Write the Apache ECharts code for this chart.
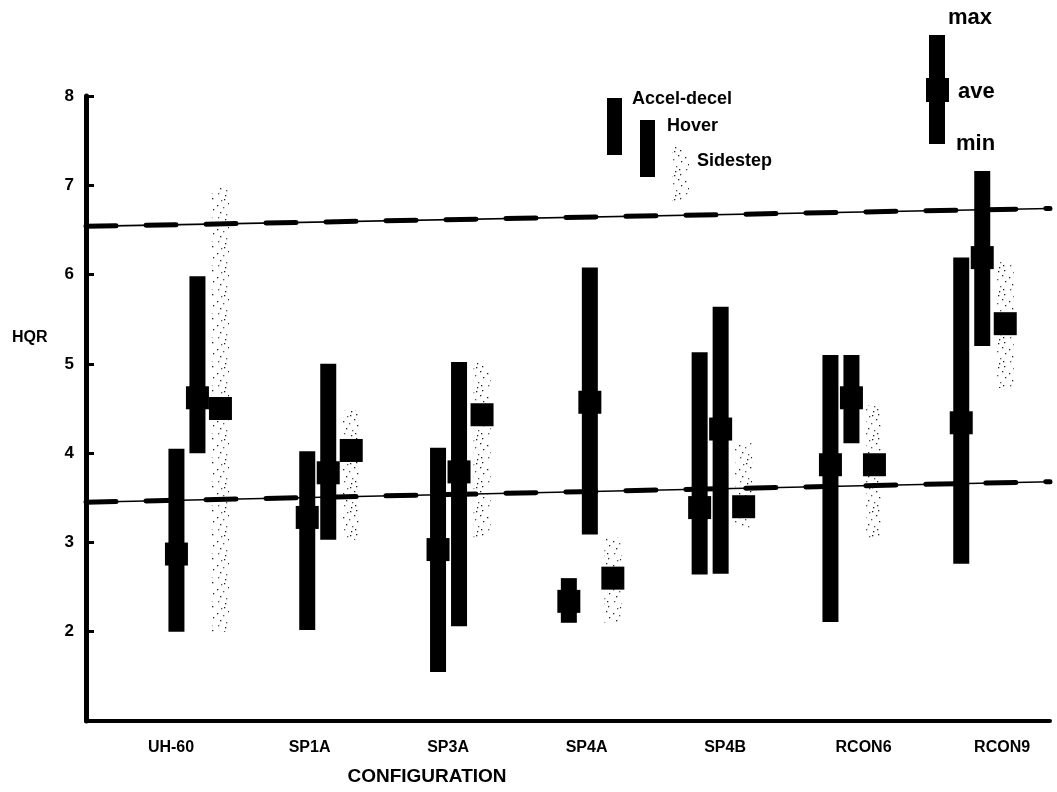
<!DOCTYPE html>
<html><head><meta charset="utf-8">
<script src="https://cdn.jsdelivr.net/npm/echarts@6/dist/echarts.min.js"></script>
<style>html,body{margin:0;padding:0;background:#fff}#c{width:1057px;height:792px}</style>
</head><body><div id="c"></div>
<script>
// ---- data ----
const categories = ['UH-60', 'SP1A', 'SP3A', 'SP4A', 'SP4B', 'RCON6', 'RCON9'];
const yTicks = [2, 3, 4, 5, 6, 7, 8];
const accelMin = [2.00, 2.02, 1.55, 2.10, 2.64, 2.11, 2.76];
const accelAve = [2.87, 3.28, 2.92, 2.34, 3.39, 3.87, 4.34];
const accelMax = [4.05, 4.02, 4.06, 2.60, 5.13, 5.10, 6.19];
const hoverMin = [4.00, 3.03, 2.06, 3.09, 2.65, 4.11, 5.20];
const hoverAve = [4.62, 3.78, 3.79, 4.57, 4.27, 4.62, 6.19];
const hoverMax = [5.98, 5.00, 5.02, 6.08, 5.64, 5.10, 7.16];
const sideMin  = [2.00, 3.03, 3.05, 2.10, 3.16, 3.05, 4.73];
const sideAve  = [4.50, 4.03, 4.43, 2.60, 3.40, 3.87, 5.45];
const sideMax  = [6.97, 4.48, 5.01, 3.06, 4.11, 4.54, 6.14];
const upperLimit = [6.54, 6.74];   // left end, right end
const lowerLimit = [3.45, 3.68];

const FONT = '"Liberation Sans", Arial, Helvetica, sans-serif';

function makeDots() {
  const c = document.createElement('canvas');
  c.width = 18; c.height = 24;
  const g = c.getContext('2d');
  const pts = [[2,1],[9,3],[14,6],[5,8],[12,11],[1,13],[7,15],[15,17],[4,20],[10,22],[8,7],[13,1]];
  pts.forEach((p, k) => { g.fillStyle = k % 3 === 0 ? '#555' : '#222'; g.fillRect(p[0], p[1], 1.3, 1.3); });
  return c;
}
const dotFill = { image: makeDots(), repeat: 'repeat' };

function rangeSeries(name, mins, aves, maxs, offset, dotted) {
  return {
    type: 'custom', name: name, xAxisIndex: 1, yAxisIndex: 0, clip: false,
    data: categories.map((c, i) => [i, mins[i], aves[i], maxs[i]]),
    renderItem: function (params, api) {
      const i = api.value(0);
      const x = api.coord([i, 1])[0] + offset;
      const yMin = api.coord([i, api.value(1)])[1];
      const yAve = api.coord([i, api.value(2)])[1];
      const yMax = api.coord([i, api.value(3)])[1];
      const bw = dotted ? 17 : 16, mw = 23, mh = 23;
      return {
        type: 'group',
        children: [
          { type: 'rect', shape: { x: x - bw / 2, y: yMax, width: bw, height: yMin - yMax },
            style: { fill: dotted ? dotFill : '#000' } },
          { type: 'rect', shape: { x: x - mw / 2, y: yAve - mh / 2, width: mw, height: mh },
            style: { fill: '#000' } }
        ]
      };
    }
  };
}

function limitSeries(vals) {
  const d = [[0, vals[0]], [1, vals[1]]];
  return [
    { type: 'line', xAxisIndex: 2, yAxisIndex: 0, data: d, symbol: 'none', silent: true,
      lineStyle: { color: '#000', width: 1.6 } },
    { type: 'line', xAxisIndex: 2, yAxisIndex: 0, data: d, symbol: 'none', silent: true,
      lineStyle: { color: '#000', width: 5, type: [30, 30], cap: 'round' } }
  ];
}

const txt = (text, x, y, size, extra) => Object.assign({ type: 'text', x: x, y: y,
  style: { text: text, fontSize: size, fontWeight: 'bold', fontFamily: FONT, fill: '#000', verticalAlign: 'middle' } }, extra || {});

const chart = echarts.init(document.getElementById('c'));
chart.setOption({
  animation: false,
  backgroundColor: '#fff',
  grid: { left: 86, right: 7, top: 96, bottom: 71, containLabel: false },
  xAxis: [
    { type: 'value', position: 'bottom', min: -0.614, max: 6.346,
      axisLine: { show: true, onZero: false, lineStyle: { color: '#000', width: 4 } },
      axisTick: { show: false }, splitLine: { show: false },
      axisLabel: { customValues: [0, 1, 2, 3, 4, 5, 6], margin: 19,
        formatter: v => categories[Math.round(v)] || '',
        color: '#000', fontSize: 16, fontWeight: 'bold', fontFamily: FONT } },
    { type: 'value', show: false, min: -0.852, max: 6.518 },
    { type: 'value', show: false, min: 0, max: 1 }
  ],
  yAxis: [
    { type: 'value', min: 1, max: 8, interval: 1,
      axisLine: { show: true, onZero: false, lineStyle: { color: '#000', width: 5 } },
      axisTick: { show: true, inside: true, length: 8, lineStyle: { color: '#000', width: 3 } },
      splitLine: { show: false },
      axisLabel: { margin: 12, color: '#000', fontSize: 17, fontWeight: 'bold', fontFamily: FONT,
        formatter: v => (yTicks.indexOf(v) >= 0 ? String(v) : '') } }
  ],
  series: [
    ...limitSeries(upperLimit),
    ...limitSeries(lowerLimit),
    rangeSeries('Accel-decel', accelMin, accelAve, accelMax, -21, false),
    rangeSeries('Hover', hoverMin, hoverAve, hoverMax, 0, false),
    rangeSeries('Sidestep', sideMin, sideAve, sideMax, 23, true)
  ],
  graphic: [
    txt('HQR', 12, 338, 16),
    txt('CONFIGURATION', 427, 777, 19, {}),
    // legend: series
    { type: 'rect', shape: { x: 607, y: 98, width: 15, height: 57 }, style: { fill: '#000' } },
    txt('Accel-decel', 632, 99, 18),
    { type: 'rect', shape: { x: 640, y: 120, width: 15, height: 57 }, style: { fill: '#000' } },
    txt('Hover', 667, 126, 18),
    { type: 'rect', shape: { x: 672, y: 147, width: 17, height: 55 }, style: { fill: dotFill } },
    txt('Sidestep', 697, 161, 18),
    // legend: max/ave/min key
    { type: 'rect', shape: { x: 929, y: 35, width: 16, height: 109 }, style: { fill: '#000' } },
    { type: 'rect', shape: { x: 926, y: 78, width: 23, height: 24 }, style: { fill: '#000' } },
    txt('max', 948, 18, 22),
    txt('ave', 958, 92, 22),
    txt('min', 956, 144, 22)
  ]
});
// center the axis title
chart.setOption({ graphic: [{}, { style: { align: 'center' } }] });
</script>
</body></html>
